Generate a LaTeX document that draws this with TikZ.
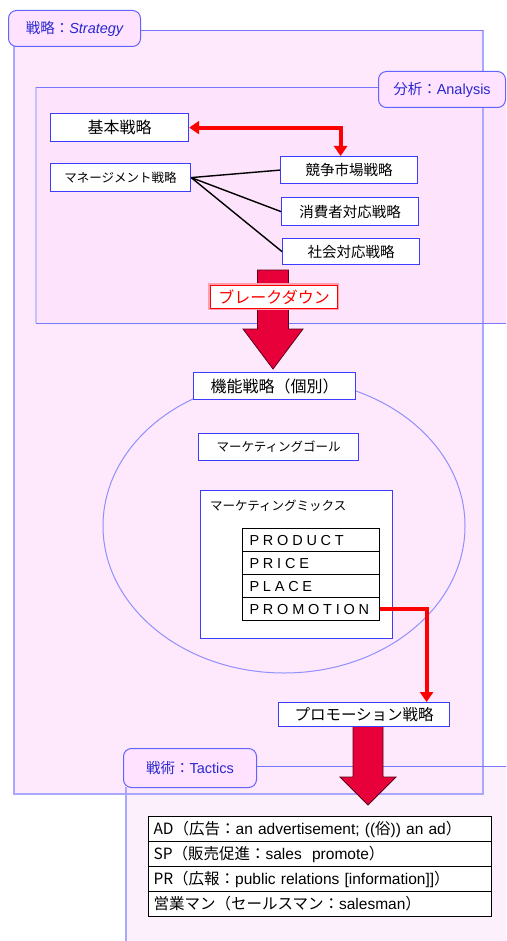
\documentclass[tikz,border=0pt]{standalone}
\usepackage{fontspec}
\setmainfont{Noto Sans CJK JP}
\newfontfamily\lat{Liberation Sans}
\newfontfamily\spaced[LetterSpace=26]{Liberation Sans}
\usetikzlibrary{arrows.meta,calc,shapes.geometric}
\definecolor{stratfill}{HTML}{FEE8FC}
\definecolor{anafill}{HTML}{FDE3FB}
\definecolor{tacfill}{HTML}{FDF0FD}
\definecolor{panelline}{HTML}{A8A8FF}
\definecolor{paneltop}{HTML}{7878FF}
\definecolor{boxblue}{HTML}{3C3CFF}
\definecolor{labelfill}{HTML}{FFE2FF}
\definecolor{labeltext}{HTML}{2828D0}
\definecolor{arrowred}{HTML}{FF0000}
\definecolor{fatred}{HTML}{E8003A}
\definecolor{fatline}{HTML}{5A0018}
\definecolor{ellline}{HTML}{9090FF}
\definecolor{bdshadow}{HTML}{FFA0B0}
\tikzset{
  bluebox/.style={draw=boxblue, line width=1.2pt, fill=white, inner sep=0pt, anchor=north west, text=black},
  panellabel/.style={draw=boxblue!80, line width=1pt, fill=labelfill, rounded corners=8pt, inner sep=0pt, anchor=north west, text=labeltext, font=\fontsize{14.5}{16}\selectfont},
  mixrow/.style={draw=black, line width=1.1pt, fill=white, inner xsep=7pt, inner ysep=0pt, text width=123pt, minimum height=23pt, align=left, anchor=north west, font=\spaced\fontsize{14.5}{16}\selectfont},
  tacrow/.style={draw=black, line width=1.1pt, fill=white, inner xsep=5pt, inner ysep=0pt, text width=333pt, minimum height=25pt, align=left, anchor=north west, font=\fontsize{15.5}{17}\selectfont},
  redarrow/.style={draw=arrowred, line width=4pt, {Triangle[length=10pt,width=13pt]}-{Triangle[length=10pt,width=13pt]}},
  redarrowone/.style={draw=arrowred, line width=4pt, -{Triangle[length=10pt,width=13pt]}},
  fatarrowstyle/.style={fill=fatred, draw=fatline, line width=0.8pt},
  thinlink/.style={draw=black, line width=1.4pt}
}
\newcommand\latin[1]{{\lat\fontsize{15.5}{17}\selectfont #1}}
\newcommand\fatarrow[5]{%
  \filldraw[fatarrowstyle] ($(#1)+(-#4,-#2)$) -- ($(#1)+(#4,-#2)$) -- ($(#1)+(#4,-#3)$) -- ($(#1)+(#5,-#3)$) -- (#1) -- ($(#1)+(-#5,-#3)$) -- ($(#1)+(-#4,-#3)$) -- cycle;}
\begin{document}
\begin{tikzpicture}[x=1pt,y=-1pt]
\useasboundingbox (0,0) rectangle (506,941);
\clip (0,0) rectangle (506,941);
% panel fills
\fill[tacfill] (126,766) rectangle (540,960);
\fill[stratfill] (14,30) rectangle (483,794);
\fill[anafill] (36,87) rectangle (540,323);
% panel borders
\draw[panelline, line width=1.5pt] (14,46) -- (14,794) -- (483,794) -- (483,30);
\draw[paneltop, line width=0.9pt] (140,30) -- (483,30);
\draw[panelline!70, line width=1.5pt] (36,87) -- (36,323);
\draw[paneltop, line width=0.9pt] (36,87) -- (378,87);
\draw[paneltop, line width=0.9pt] (36,323) -- (540,323);
\draw[panelline, line width=1.5pt] (126,787) -- (126,960);
\draw[paneltop, line width=0.9pt] (256,766) -- (540,766);
% panel labels
\node[panellabel, minimum width=132pt, minimum height=36pt] (stratlabel) at (8,10) {戦略：{\lat\itshape Strategy}};
\node[panellabel, minimum width=127pt, minimum height=36pt] (analabel) at (378,71) {分析：{\lat Analysis}};
\node[panellabel, minimum width=133pt, minimum height=39pt] (taclabel) at (123,748) {戦術：{\lat Tactics}};
% ellipse
\node[ellipse, draw=ellline, line width=1pt, minimum width=362pt, minimum height=294pt, inner sep=0pt] (funcell) at (284,526) {};
% fat arrows
\coordinate (tipA) at (273,369);
\coordinate (tipB) at (368,805);
\fatarrow{tipA}{99}{40}{15.5}{30}
\fatarrow{tipB}{79}{28}{15}{28}
% analysis boxes
\node[bluebox, minimum width=138pt, minimum height=28pt, font=\fontsize{16}{18}\selectfont] (kihon) at (50,113) {基本戦略};
\node[bluebox, minimum width=140pt, minimum height=28pt, font=\fontsize{12.5}{14}\selectfont] (mgmt) at (50,163) {マネージメント戦略};
\node[bluebox, minimum width=137pt, minimum height=27pt, font=\fontsize{14.5}{16}\selectfont] (kyoso) at (280,156) {競争市場戦略};
\node[bluebox, minimum width=137pt, minimum height=28pt, font=\fontsize{14.5}{16}\selectfont] (shohi) at (281,197) {消費者対応戦略};
\node[bluebox, minimum width=137pt, minimum height=26pt, font=\fontsize{14.5}{16}\selectfont] (shakai) at (282,238) {社会対応戦略};
\draw[thinlink] (mgmt.east) -- (kyoso.west);
\draw[thinlink] (mgmt.east) -- (shohi.west);
\draw[thinlink] (mgmt.east) -- (shakai.west);
\draw[redarrow] (kihon.east) -| ($(kyoso.north)+(-8.5,0)$);
% breakdown label
\fill[bdshadow] (208,283) rectangle (339,310);
\node[draw=arrowred, line width=1.2pt, fill=white, inner sep=0pt, anchor=north west, minimum width=127pt, minimum height=23pt, text=arrowred, font=\fontsize{16}{18}\selectfont] (bd) at (210,285) {ブレークダウン};
% functional strategy
\node[bluebox, minimum width=162pt, minimum height=27pt, font=\fontsize{16}{18}\selectfont] (kinou) at (193,372) {機能戦略（個別）};
\node[bluebox, minimum width=160pt, minimum height=27pt, font=\fontsize{12.5}{14}\selectfont] (goal) at (198,433) {マーケティングゴール};
\node[bluebox, minimum width=192pt, minimum height=148pt] (mix) at (200,490) {};
\node[anchor=west, inner sep=0pt, font=\fontsize{12.5}{14}\selectfont] (mixlabel) at (210,506) {マーケティングミックス};
\node[mixrow] (product) at (242,528) {PRODUCT};
\node[mixrow] (price) at (242,551) {PRICE};
\node[mixrow] (place) at (242,574) {PLACE};
\node[mixrow] (promotion) at (242,597) {PROMOTION};
% promotion strategy
\node[bluebox, minimum width=171pt, minimum height=24pt, font=\fontsize{15.5}{17}\selectfont] (promo) at (278,702) {プロモーション戦略};
\draw[redarrowone] (promotion.east) -| ($(promo.north)+(62.5,0)$);
% tactics table
\node[tacrow] (ad) at (148,816) {AD（広告：\latin{an advertisement; ((}俗\latin{)) an ad}）};
\node[tacrow] (sp) at (148,841) {SP（販売促進：\latin{sales\ \ promote}）};
\node[tacrow] (pr) at (148,866) {PR（広報：\latin{public relations [information]]}）};
\node[tacrow] (sales) at (148,891) {営業マン（セールスマン：\latin{salesman}）};
\end{tikzpicture}
\end{document}
